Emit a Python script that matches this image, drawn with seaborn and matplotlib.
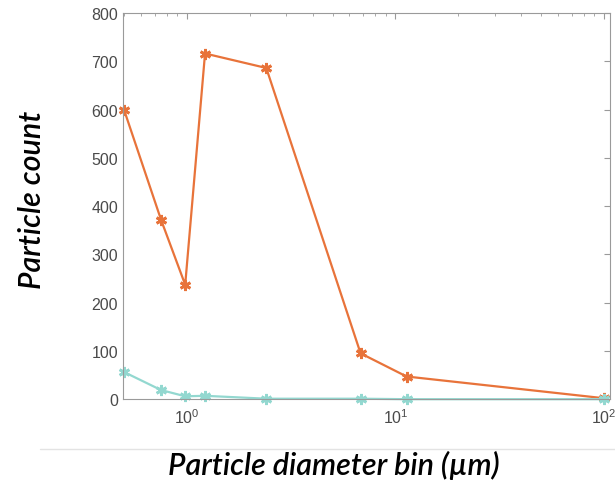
import matplotlib
matplotlib.use("Agg")
import matplotlib.pyplot as plt
import seaborn as sns
import pandas as pd
from matplotlib.lines import Line2D
from matplotlib.ticker import LogLocator, FixedLocator

diameter = [0.5, 0.75, 0.98, 1.22, 2.4, 6.8, 11.3, 100]
count_orange = [598, 372, 237, 716, 686, 95, 47, 2]
count_cyan = [56, 19, 6, 7, 1, 1, 0, 0]
y_ticks = [0, 100, 200, 300, 400, 500, 600, 700, 800]

sns.set_style("white")
plt.rcParams['font.family'] = ['Liberation Sans', 'DejaVu Sans']
plt.rcParams['mathtext.fontset'] = 'custom'
plt.rcParams['mathtext.rm'] = 'Liberation Sans'
plt.rcParams['mathtext.it'] = 'Liberation Sans:italic'

fig = plt.figure(figsize=(6.15, 4.81), dpi=100)
ax = fig.add_axes([0.2, 0.168, 0.792, 0.803])

df_o = pd.DataFrame({"d": diameter, "c": count_orange})
df_c = pd.DataFrame({"d": diameter, "c": count_cyan})
sns.lineplot(data=df_o, x="d", y="c", ax=ax, color="#E8733A", marker=(6, 2, 0),
             markersize=8, markeredgewidth=2, markeredgecolor="#E8733A", linewidth=1.6, clip_on=False)
sns.lineplot(data=df_c, x="d", y="c", ax=ax, color="#93D8D0", marker=(6, 2, 0),
             markersize=8, markeredgewidth=2, markeredgecolor="#93D8D0", linewidth=1.6, clip_on=False)

ax.set_xscale("log")
ax.set_xlim(0.493, 107)
ax.set_ylim(0, 800)
ax.yaxis.set_major_locator(FixedLocator(y_ticks))
ax.xaxis.set_major_locator(LogLocator(base=10))
ax.xaxis.set_minor_locator(LogLocator(base=10, subs=range(2, 10)))
ax.set_xlabel("")
ax.set_ylabel("")
for s in ax.spines.values():
    s.set_visible(True)
    s.set_color("#9a9a9a")
    s.set_linewidth(0.8)
ax.tick_params(axis="both", which="both", direction="in", top=True, right=True,
               colors="#9a9a9a", labelcolor="#4a4a4a", labelsize=11.5)
ax.tick_params(which="major", length=4)
ax.tick_params(which="minor", length=2.5)
ax.tick_params(axis="x", pad=6)

fig.text(0.542, 0.033, "Particle diameter bin (µm)", ha="center", va="center",
         fontsize=22, fontstyle="italic", fontweight="semibold", family=["Lato", "DejaVu Sans"], color="black")
fig.text(0.052, 0.584, "Particle count", ha="center", va="center", rotation=90,
         fontsize=22, fontstyle="italic", fontweight="semibold", family=["Lato", "DejaVu Sans"], color="black")
fig.add_artist(Line2D([0.065, 1.0], [0.064, 0.064], color="#e3e3e3", linewidth=1, transform=fig.transFigure))

fig.savefig("out.png", dpi=100)
